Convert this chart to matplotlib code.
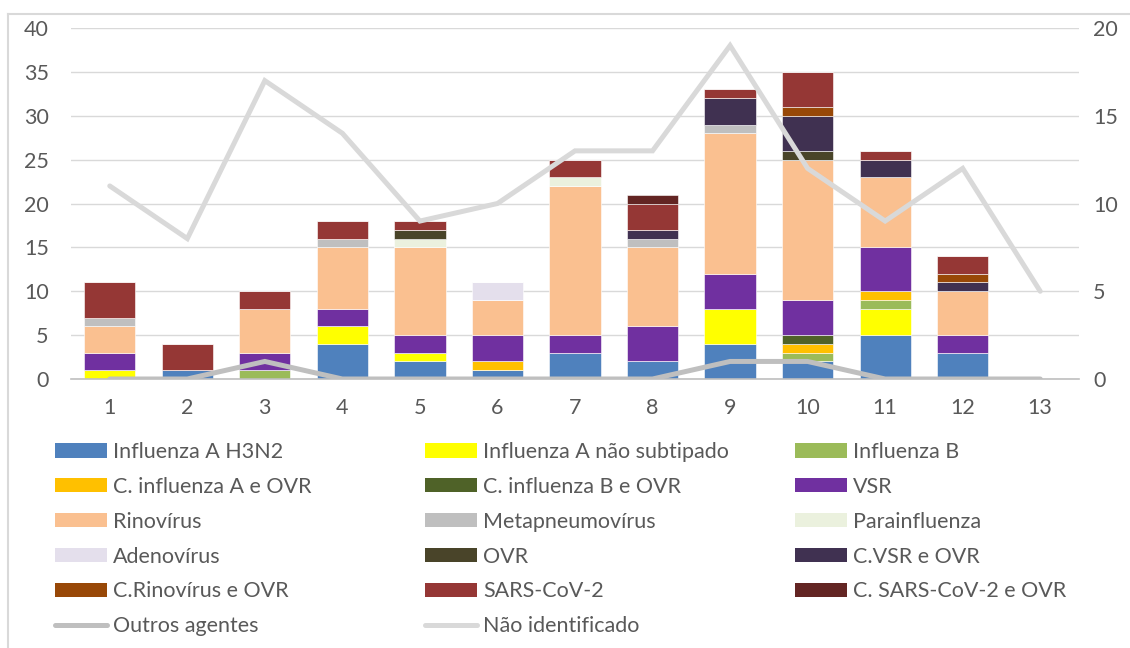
import matplotlib

matplotlib.use("Agg")
import matplotlib.pyplot as plt
from matplotlib.lines import Line2D
from matplotlib.patches import Patch
import numpy as np

TEXT_COLOR = "#595959"
GRID_COLOR = "#D9D9D9"
FONT_SIZE = 15.5

weeks = [str(i) for i in range(1, 14)]

# stacked bar series (cases per week), in stacking order
h3n2 = [0, 1, 0, 4, 2, 1, 3, 2, 4, 2, 5, 3, 0]
flu_a_ns = [1, 0, 0, 2, 1, 0, 0, 0, 4, 0, 3, 0, 0]
flu_b = [0, 0, 1, 0, 0, 0, 0, 0, 0, 1, 1, 0, 0]
co_flu_a = [0, 0, 0, 0, 0, 1, 0, 0, 0, 1, 1, 0, 0]
co_flu_b = [0, 0, 0, 0, 0, 0, 0, 0, 0, 1, 0, 0, 0]
vsr = [2, 0, 2, 2, 2, 3, 2, 4, 4, 4, 5, 2, 0]
rino = [3, 0, 5, 7, 10, 4, 17, 9, 16, 16, 8, 5, 0]
metapneumo = [1, 0, 0, 1, 0, 0, 0, 1, 1, 0, 0, 0, 0]
parainfluenza = [0, 0, 0, 0, 1, 0, 1, 0, 0, 0, 0, 0, 0]
adeno = [0, 0, 0, 0, 0, 2, 0, 0, 0, 0, 0, 0, 0]
ovr = [0, 0, 0, 0, 1, 0, 0, 0, 0, 1, 0, 0, 0]
co_vsr = [0, 0, 0, 0, 0, 0, 0, 1, 3, 4, 2, 1, 0]
co_rino = [0, 0, 0, 0, 0, 0, 0, 0, 0, 1, 0, 1, 0]
sars = [4, 3, 2, 2, 1, 0, 2, 3, 1, 4, 1, 2, 0]
co_sars = [0, 0, 0, 0, 0, 0, 0, 1, 0, 0, 0, 0, 0]

# line series (secondary axis)
outros = [0, 0, 1, 0, 0, 0, 0, 0, 1, 1, 0, 0, 0]
nao_ident = [11, 8, 17, 14, 9, 10, 13, 13, 19, 12, 9, 12, 5]

bar_series = [
    ("Influenza A H3N2", h3n2, "#4F81BD"),
    ("Influenza A não subtipado", flu_a_ns, "#FFFF00"),
    ("Influenza B", flu_b, "#9BBB59"),
    ("C. influenza A e OVR", co_flu_a, "#FFC000"),
    ("C. influenza B e OVR", co_flu_b, "#4F6228"),
    ("VSR", vsr, "#7030A0"),
    ("Rinovírus", rino, "#FAC090"),
    ("Metapneumovírus", metapneumo, "#BFBFBF"),
    ("Parainfluenza", parainfluenza, "#EBF1DE"),
    ("Adenovírus", adeno, "#E4DFEC"),
    ("OVR", ovr, "#494429"),
    ("C.VSR e OVR", co_vsr, "#403151"),
    ("C.Rinovírus e OVR", co_rino, "#984807"),
    ("SARS-CoV-2", sars, "#953735"),
    ("C. SARS-CoV-2 e OVR", co_sars, "#632523"),
]
line_series = [
    ("Outros agentes", outros, "#BFBFBF"),
    ("Não identificado", nao_ident, "#D9D9D9"),
]

plt.rcParams.update({"font.family": ["Lato", "DejaVu Sans"], "font.size": FONT_SIZE})

fig = plt.figure(figsize=(11.3, 6.48), dpi=100)
ax = fig.add_axes([71 / 1130, 1 - 379 / 648, 1008 / 1130, 351 / 648])
ax2 = ax.twinx()

x = np.arange(len(weeks))
bottom = np.zeros(len(weeks))
handles = []
for name, vals, color in bar_series:
    ax.bar(x, vals, bottom=bottom, width=0.66, color=color, edgecolor="white",
           linewidth=0.4, zorder=2)
    bottom += np.array(vals)
    handles.append(Patch(facecolor=color, label=name))

for name, vals, color in line_series:
    ax2.plot(x, vals, color=color, linewidth=3.6, solid_capstyle="round",
             solid_joinstyle="miter", zorder=3)
    handles.append(Line2D([], [], color=color, linewidth=3.6,
                          solid_capstyle="round", label=name))

ax.set_xlim(-0.5, len(weeks) - 0.5)
ax.set_ylim(0, 40)
ax.set_yticks(range(0, 41, 5))
ax2.set_ylim(0, 20)
ax2.set_yticks(range(0, 21, 5))
ax.set_xticks(x)
ax.set_xticklabels(weeks)

ax.grid(axis="y", color=GRID_COLOR, linewidth=1.0, zorder=0)
ax.set_axisbelow(True)
for a in (ax, ax2):
    for s in a.spines.values():
        s.set_visible(False)
ax.spines["bottom"].set_visible(True)
ax.spines["bottom"].set_color("#BFBFBF")
ax.spines["bottom"].set_linewidth(1.2)

ax.tick_params(axis="y", length=0, pad=16, colors=TEXT_COLOR, labelsize=FONT_SIZE)
ax.tick_params(axis="x", length=0, pad=14, colors=TEXT_COLOR, labelsize=FONT_SIZE)
ax2.tick_params(axis="y", length=0, pad=10, colors=TEXT_COLOR, labelsize=FONT_SIZE)

# legend: three columns laid out row by row
col_x = [55 / 1130, 425 / 1130, 795 / 1130]
for c in range(3):
    col_handles = handles[c::3]
    fig.legend(
        handles=col_handles,
        loc="upper left",
        bbox_to_anchor=(col_x[c], 1 - 442 / 648),
        frameon=False,
        fontsize=FONT_SIZE,
        labelcolor=TEXT_COLOR,
        handlelength=2.42,
        handleheight=0.65,
        handletextpad=0.28,
        labelspacing=0.69,
        borderpad=0,
        borderaxespad=0,
    )

# chart frame (partly cropped in the source)
fig.add_artist(Line2D([8 / 1130, 8 / 1130], [0, 1 - 14 / 648], color=GRID_COLOR,
                      linewidth=1.5, transform=fig.transFigure))
fig.add_artist(Line2D([8 / 1130, 1], [1 - 14 / 648, 1 - 14 / 648], color=GRID_COLOR,
                      linewidth=1.5, transform=fig.transFigure))

fig.savefig("out.png", dpi=100)
